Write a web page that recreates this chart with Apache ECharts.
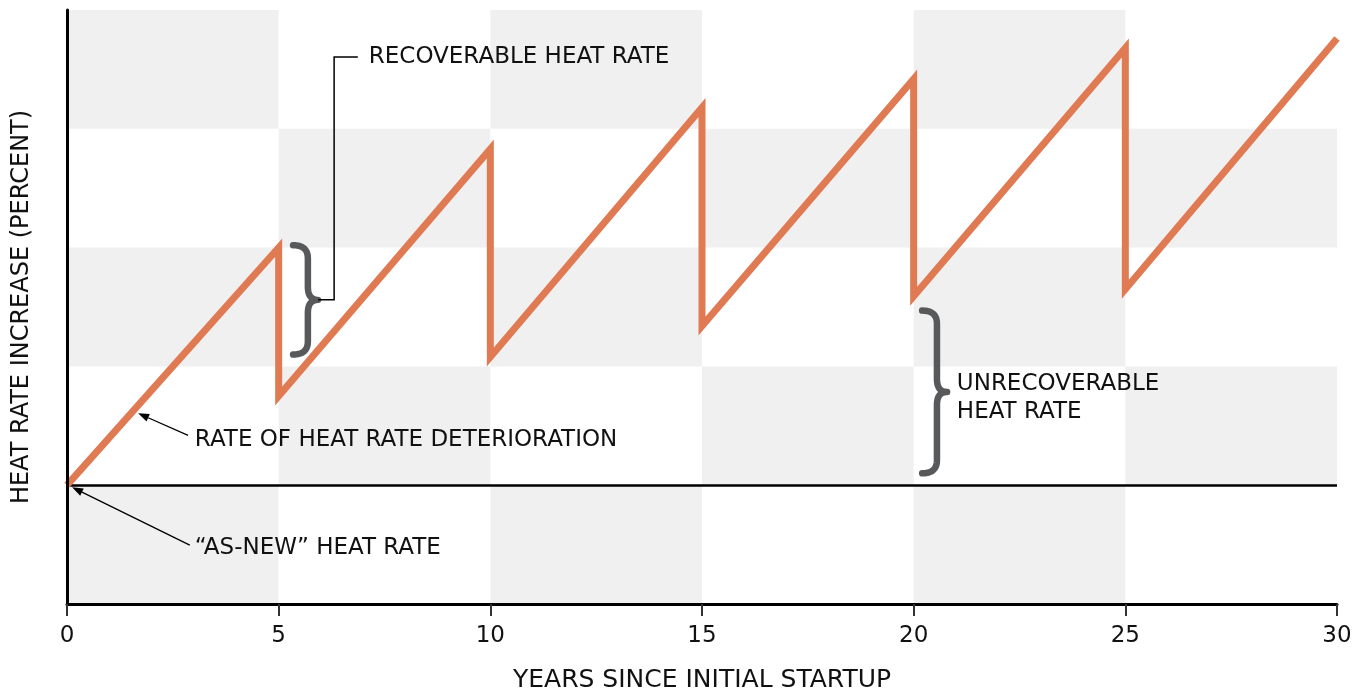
<!DOCTYPE html>
<html>
<head>
<meta charset="utf-8">
<script src="https://cdn.jsdelivr.net/npm/echarts@6/dist/echarts.min.js"></script>
<style>
html,body{margin:0;padding:0;background:#fff;}
#chart{width:1370px;height:694px;}
</style>
</head>
<body>
<div id="chart"></div>
<script>
// ---- data ----
const years = [0, 5, 5, 10, 10, 15, 15, 20, 20, 25, 25, 30];
const heatRateIncrease = [0, 2.0, 0.75, 2.83, 1.08, 3.18, 1.34, 3.42, 1.59, 3.68, 1.65, 3.76];
const xTicks = [0, 5, 10, 15, 20, 25, 30];
const yBands = [-1, 0, 1, 2, 3, 4];
const xTitle = 'YEARS SINCE INITIAL STARTUP';
const yTitle = 'HEAT RATE INCREASE (PERCENT)';
const labelRecoverable = 'RECOVERABLE HEAT RATE';
const labelUnrecoverable = 'UNRECOVERABLE\nHEAT RATE';
const labelRate = 'RATE OF HEAT RATE DETERIORATION';
const labelAsNew = '\u201cAS-NEW\u201d HEAT RATE';

const FONT = 'DejaVu Sans';
const FS = 23;
const seriesData = years.map((x, i) => [x, heatRateIncrease[i]]);

// checkerboard bands
const areas = [];
for (let c = 0; c < xTicks.length - 1; c++) {
  for (let r = 0; r < yBands.length - 1; r++) {
    const rowFromTop = (yBands.length - 2) - r;
    if ((c + rowFromTop) % 2 === 0) {
      areas.push([{ xAxis: xTicks[c], yAxis: yBands[r] }, { xAxis: xTicks[c + 1], yAxis: yBands[r + 1] }]);
    }
  }
}

const chart = echarts.init(document.getElementById('chart'), null, { renderer: 'canvas' });
chart.setOption({
  animation: false,
  grid: { left: 67, right: 33, top: 10, bottom: 90, containLabel: false, outerBoundsMode: 'none' },
  xAxis: {
    type: 'value', min: 0, max: 30, interval: 5, z: 10,
    axisLine: { show: true, onZero: false, lineStyle: { color: '#000', width: 3 } },
    axisTick: { show: true, length: 12, lineStyle: { color: '#333', width: 2 } },
    axisLabel: { fontSize: FS, color: '#111', fontFamily: FONT, margin: 21 },
    splitLine: { show: false },
    name: xTitle, nameLocation: 'middle', nameGap: 64,
    nameTextStyle: { fontSize: 25, color: '#111', fontFamily: FONT }
  },
  yAxis: {
    type: 'value', min: -1, max: 4, interval: 1, z: 10,
    axisLine: { show: true, onZero: false, lineStyle: { color: '#000', width: 3 } },
    axisTick: { show: false }, axisLabel: { show: false },
    splitLine: { show: false },
    name: yTitle, nameLocation: 'middle', nameGap: 33,
    nameTextStyle: { fontSize: 24, color: '#111', fontFamily: FONT }
  },
  series: [
    {
      type: 'line', data: [], silent: true, z: 1,
      markArea: { silent: true, itemStyle: { color: '#f0f0f0' }, data: areas },
      markLine: {
        silent: true, symbol: 'none', label: { show: false },
        lineStyle: { color: '#000', width: 2.5, type: 'solid' },
        data: [{ yAxis: 0 }]
      }
    },
    {
      type: 'line', data: seriesData, symbol: 'none', silent: true,
      lineStyle: { color: '#e07a52', width: 7, join: 'miter', cap: 'butt', miterLimit: 20 },
      z: 5
    }
  ]
});

// ---- annotations anchored in data coordinates ----
const P = (x, y) => chart.convertToPixel({ gridIndex: 0 }, [x, y]);
const g = [];
const BRACE_COLOR = '#58595b';

function quad(p0, c, p1, n, out) {
  for (let i = 1; i <= n; i++) {
    const t = i / n, u = 1 - t;
    out.push([u * u * p0[0] + 2 * u * t * c[0] + t * t * p1[0], u * u * p0[1] + 2 * u * t * c[1] + t * t * p1[1]]);
  }
}
function brace(xEnd, xVert, xTip, yTop, yBot) {
  const a = P(xEnd, yTop), b = P(xEnd, yBot);
  const xv = P(xVert, 0)[0], xt = P(xTip, 0)[0];
  const top = a[1], bot = b[1], mid = (top + bot) / 2, x0 = a[0];
  const r = 13;
  const pts = [[x0, top]];
  quad([x0, top], [xv, top], [xv, top + r], 10, pts);
  pts.push([xv, mid - r]);
  quad([xv, mid - r], [xv, mid], [xt, mid], 10, pts);
  quad([xt, mid], [xv, mid], [xv, mid + r], 10, pts);
  pts.push([xv, bot - r]);
  quad([xv, bot - r], [xv, bot], [x0, bot], 10, pts);
  g.push({ type: 'polyline', shape: { points: pts }, style: { stroke: BRACE_COLOR, lineWidth: 6.5, fill: null, lineCap: 'round', lineJoin: 'round' }, z: 10 });
  return [xt, mid];
}
function text(x, y, s, extra) {
  const p = P(x, y);
  g.push({ type: 'text', x: p[0], y: p[1], style: Object.assign({ text: s, fontSize: FS, fontFamily: FONT, fill: '#111', verticalAlign: 'middle', align: 'left' }, extra || {}), z: 10 });
}
function arrow(hx, hy, tx, ty) {
  const h = P(hx, hy), t = P(tx, ty);
  const ang = Math.atan2(h[1] - t[1], h[0] - t[0]);
  const L = 11, W = 4;
  const bx = h[0] - L * Math.cos(ang), by = h[1] - L * Math.sin(ang);
  g.push({ type: 'line', shape: { x1: t[0], y1: t[1], x2: bx, y2: by }, style: { stroke: '#000', lineWidth: 1.3 }, z: 10 });
  g.push({ type: 'polygon', shape: { points: [h, [bx + W * Math.sin(ang), by - W * Math.cos(ang)], [bx - W * Math.sin(ang), by + W * Math.cos(ang)]] }, style: { fill: '#000' }, z: 10 });
}

// recoverable brace + leader
const tip1 = brace(5.34, 5.69, 5.93, 2.02, 1.10);
const lx = P(6.31, 0)[0], ly = P(0, 3.605)[1], lx2 = P(6.87, 0)[0];
g.push({ type: 'polyline', shape: { points: [tip1, [lx, tip1[1]], [lx, ly], [lx2, ly]] }, style: { stroke: '#000', lineWidth: 1.5, fill: null }, z: 10 });
text(7.13, 3.605, labelRecoverable);

// unrecoverable brace
brace(20.2, 20.55, 20.79, 1.47, 0.10);
text(21.02, 0.73, labelUnrecoverable, { lineHeight: 28 });

// arrows
arrow(1.68, 0.605, 2.86, 0.42);
text(3.02, 0.378, labelRate);
arrow(0.12, -0.017, 2.9, -0.504);
text(3.02, -0.53, labelAsNew);

chart.setOption({ graphic: g });
</script>
</body>
</html>
